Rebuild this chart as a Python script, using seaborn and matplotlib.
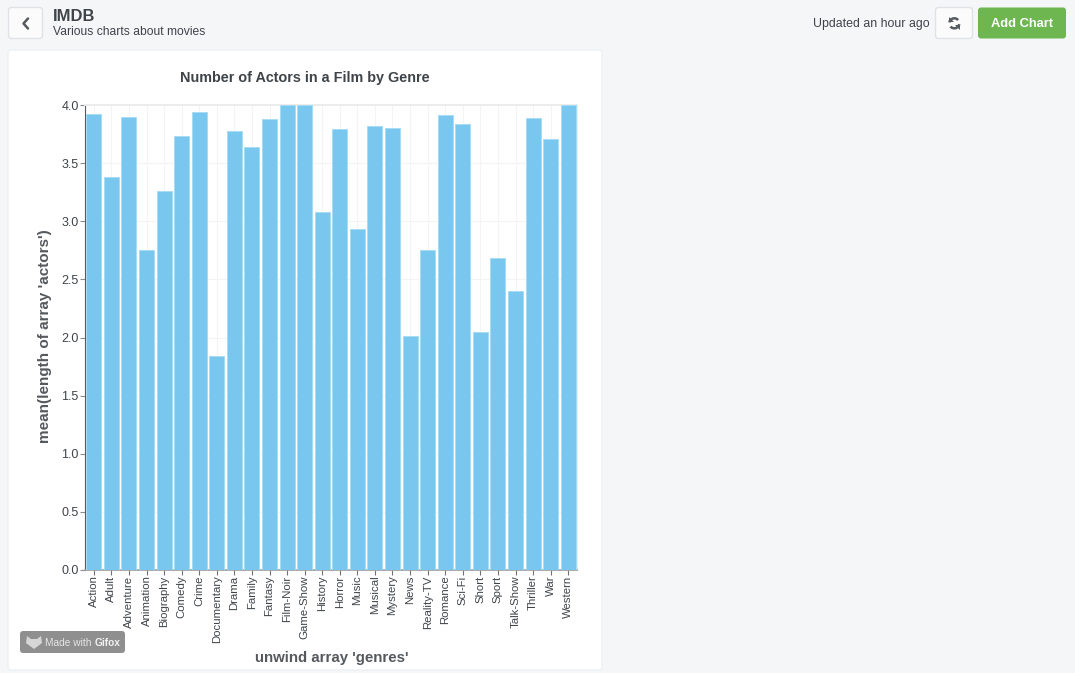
import matplotlib
matplotlib.use("Agg")
import matplotlib.pyplot as plt
from matplotlib.patches import FancyBboxPatch, Arc, Polygon
import seaborn as sns
import pandas as pd

genres = ["Action", "Adult", "Adventure", "Animation", "Biography", "Comedy", "Crime",
          "Documentary", "Drama", "Family", "Fantasy", "Film-Noir", "Game-Show", "History",
          "Horror", "Music", "Musical", "Mystery", "News", "Reality-TV", "Romance", "Sci-Fi",
          "Short", "Sport", "Talk-Show", "Thriller", "War", "Western"]
mean_actors = [3.92, 3.38, 3.90, 2.75, 3.26, 3.73, 3.94, 1.84, 3.78, 3.64, 3.88, 4.00, 4.00, 3.08,
               3.79, 2.93, 3.82, 3.80, 2.01, 2.75, 3.91, 3.84, 2.05, 2.68, 2.40, 3.89, 3.71, 4.00]
y_ticks = [0.0, 0.5, 1.0, 1.5, 2.0, 2.5, 3.0, 3.5, 4.0]

sns.set_theme(style="white")
plt.rcParams['font.family'] = ['Liberation Sans', 'DejaVu Sans']

W, H = 1075, 673
BG = "#f5f6f8"
TXT = "#3f4449"
fig = plt.figure(figsize=(W / 100, H / 100), dpi=100, facecolor=BG)
overlay = fig.add_axes([0, 0, 1, 1], zorder=0)
overlay.set_xlim(0, W)
overlay.set_ylim(H, 0)
overlay.axis("off")


def box(x, y, w, h, fc, ec="none", r=3, lw=1, z=1):
    overlay.add_patch(FancyBboxPatch((x + r, y + r), w - 2 * r, h - 2 * r,
                                     boxstyle=f"round,pad={r},rounding_size={r}",
                                     fc=fc, ec=ec, lw=lw, zorder=z))


# card and header
box(8, 50, 594, 620, "white", ec="#eef0f2")
box(8.5, 7.5, 34, 31, "#fbfbfc", ec="#e0e2e5")
overlay.plot([28, 23.5, 28], [18.5, 23.5, 28.5], color="#555a5f", lw=1.8, zorder=3)
overlay.text(53, 16.5, "IMDB", fontsize=11.9, fontweight="bold", color=TXT, va="center")
overlay.text(53, 32, "Various charts about movies", fontsize=8.75, color=TXT, va="center")
overlay.text(930, 24.5, "Updated an hour ago", fontsize=8.9, color=TXT, va="center", ha="right")
box(935.5, 7.5, 37, 31, "#fbfbfc", ec="#e0e2e5")
for start, tip in ((190, [(948.5, 16.5), (948.5, 22), (954, 22)]),
                   (10, [(960, 30), (960, 24.5), (954.5, 24.5)])):
    overlay.add_patch(Arc((954.3, 23.3), 10, 10, theta1=start, theta2=start + 130,
                          color="#555a5f", lw=1.8, zorder=3))
    overlay.add_patch(Polygon(tip, fc="#555a5f", ec="none", zorder=3))
box(978, 7.5, 88, 31, "#6db650")
overlay.text(1022, 24, "Add Chart", ha="center", va="center", fontsize=9.3, fontweight="bold", color="white")

# watermark
box(20, 631, 105, 22, "#8f8f8f", z=5)
overlay.add_patch(Polygon([(27, 636), (31, 639), (37, 639), (41, 636), (42, 643), (34, 649), (26, 643)],
                          fc="#d6d6d6", ec="none", zorder=6))
overlay.text(45, 642.5, "Made with", fontsize=7.3, color="#e6e6e6", va="center", zorder=6)
overlay.text(95, 642.5, "Gifox", fontsize=7.3, fontweight="bold", color="#f2f2f2", va="center", zorder=6)

# chart
L, R, T, B = 85, 577, 105, 570
ax = fig.add_axes([L / W, 1 - B / H, (R - L) / W, (B - T) / H], zorder=2)
ax.patch.set_alpha(0)
df = pd.DataFrame({"genre": genres, "value": mean_actors})
sns.barplot(data=df, x="genre", y="value", color="#79c7ee", saturation=1, width=0.86,
            edgecolor="#a8dcf5", linewidth=0.7, ax=ax, zorder=3)
ax.set_xlim(-0.5, len(genres) - 0.5)
ax.set_ylim(0, 4)
ax.set_yticks(y_ticks)
ax.set_yticklabels([f"{v:.1f}" for v in y_ticks])
ax.set_xticks(range(len(genres)))
ax.set_xticklabels(genres, rotation=90)
ax.grid(True, color="#f3f4f5", lw=0.8, zorder=0)
ax.set_axisbelow(True)
ax.tick_params(axis="x", length=3.6, width=0.8, color="#6f7276", labelcolor=TXT, labelsize=8.2, pad=0.4,
               bottom=True)
ax.tick_params(axis="y", length=3.6, width=0.8, color="#8a8d90", labelcolor=TXT, labelsize=9, pad=1,
               left=True)
ax.spines["top"].set_color("#ececec")
ax.spines["top"].set_linewidth(1.4)
ax.spines["right"].set_color("#e8e9ea")
ax.spines["left"].set_color("#555a5f")
ax.spines["left"].set_linewidth(0.8)
ax.spines["bottom"].set_color("#9a9da0")
ax.spines["bottom"].set_linewidth(1.2)
ax.set_xlabel("")
ax.set_ylabel("")

overlay.text(305, 78, "Number of Actors in a Film by Genre", ha="center", va="center",
             fontsize=10.35, fontweight="bold", color=TXT)
overlay.text(332, 658, "unwind array 'genres'", ha="center", va="center",
             fontsize=10.8, fontweight="bold", color="#55595e")
overlay.text(45, 336, "mean(length of array 'actors')", ha="center", va="center", rotation=90,
             fontsize=11, fontweight="bold", color="#55595e")

fig.savefig("out.png", dpi=100, facecolor=BG)
